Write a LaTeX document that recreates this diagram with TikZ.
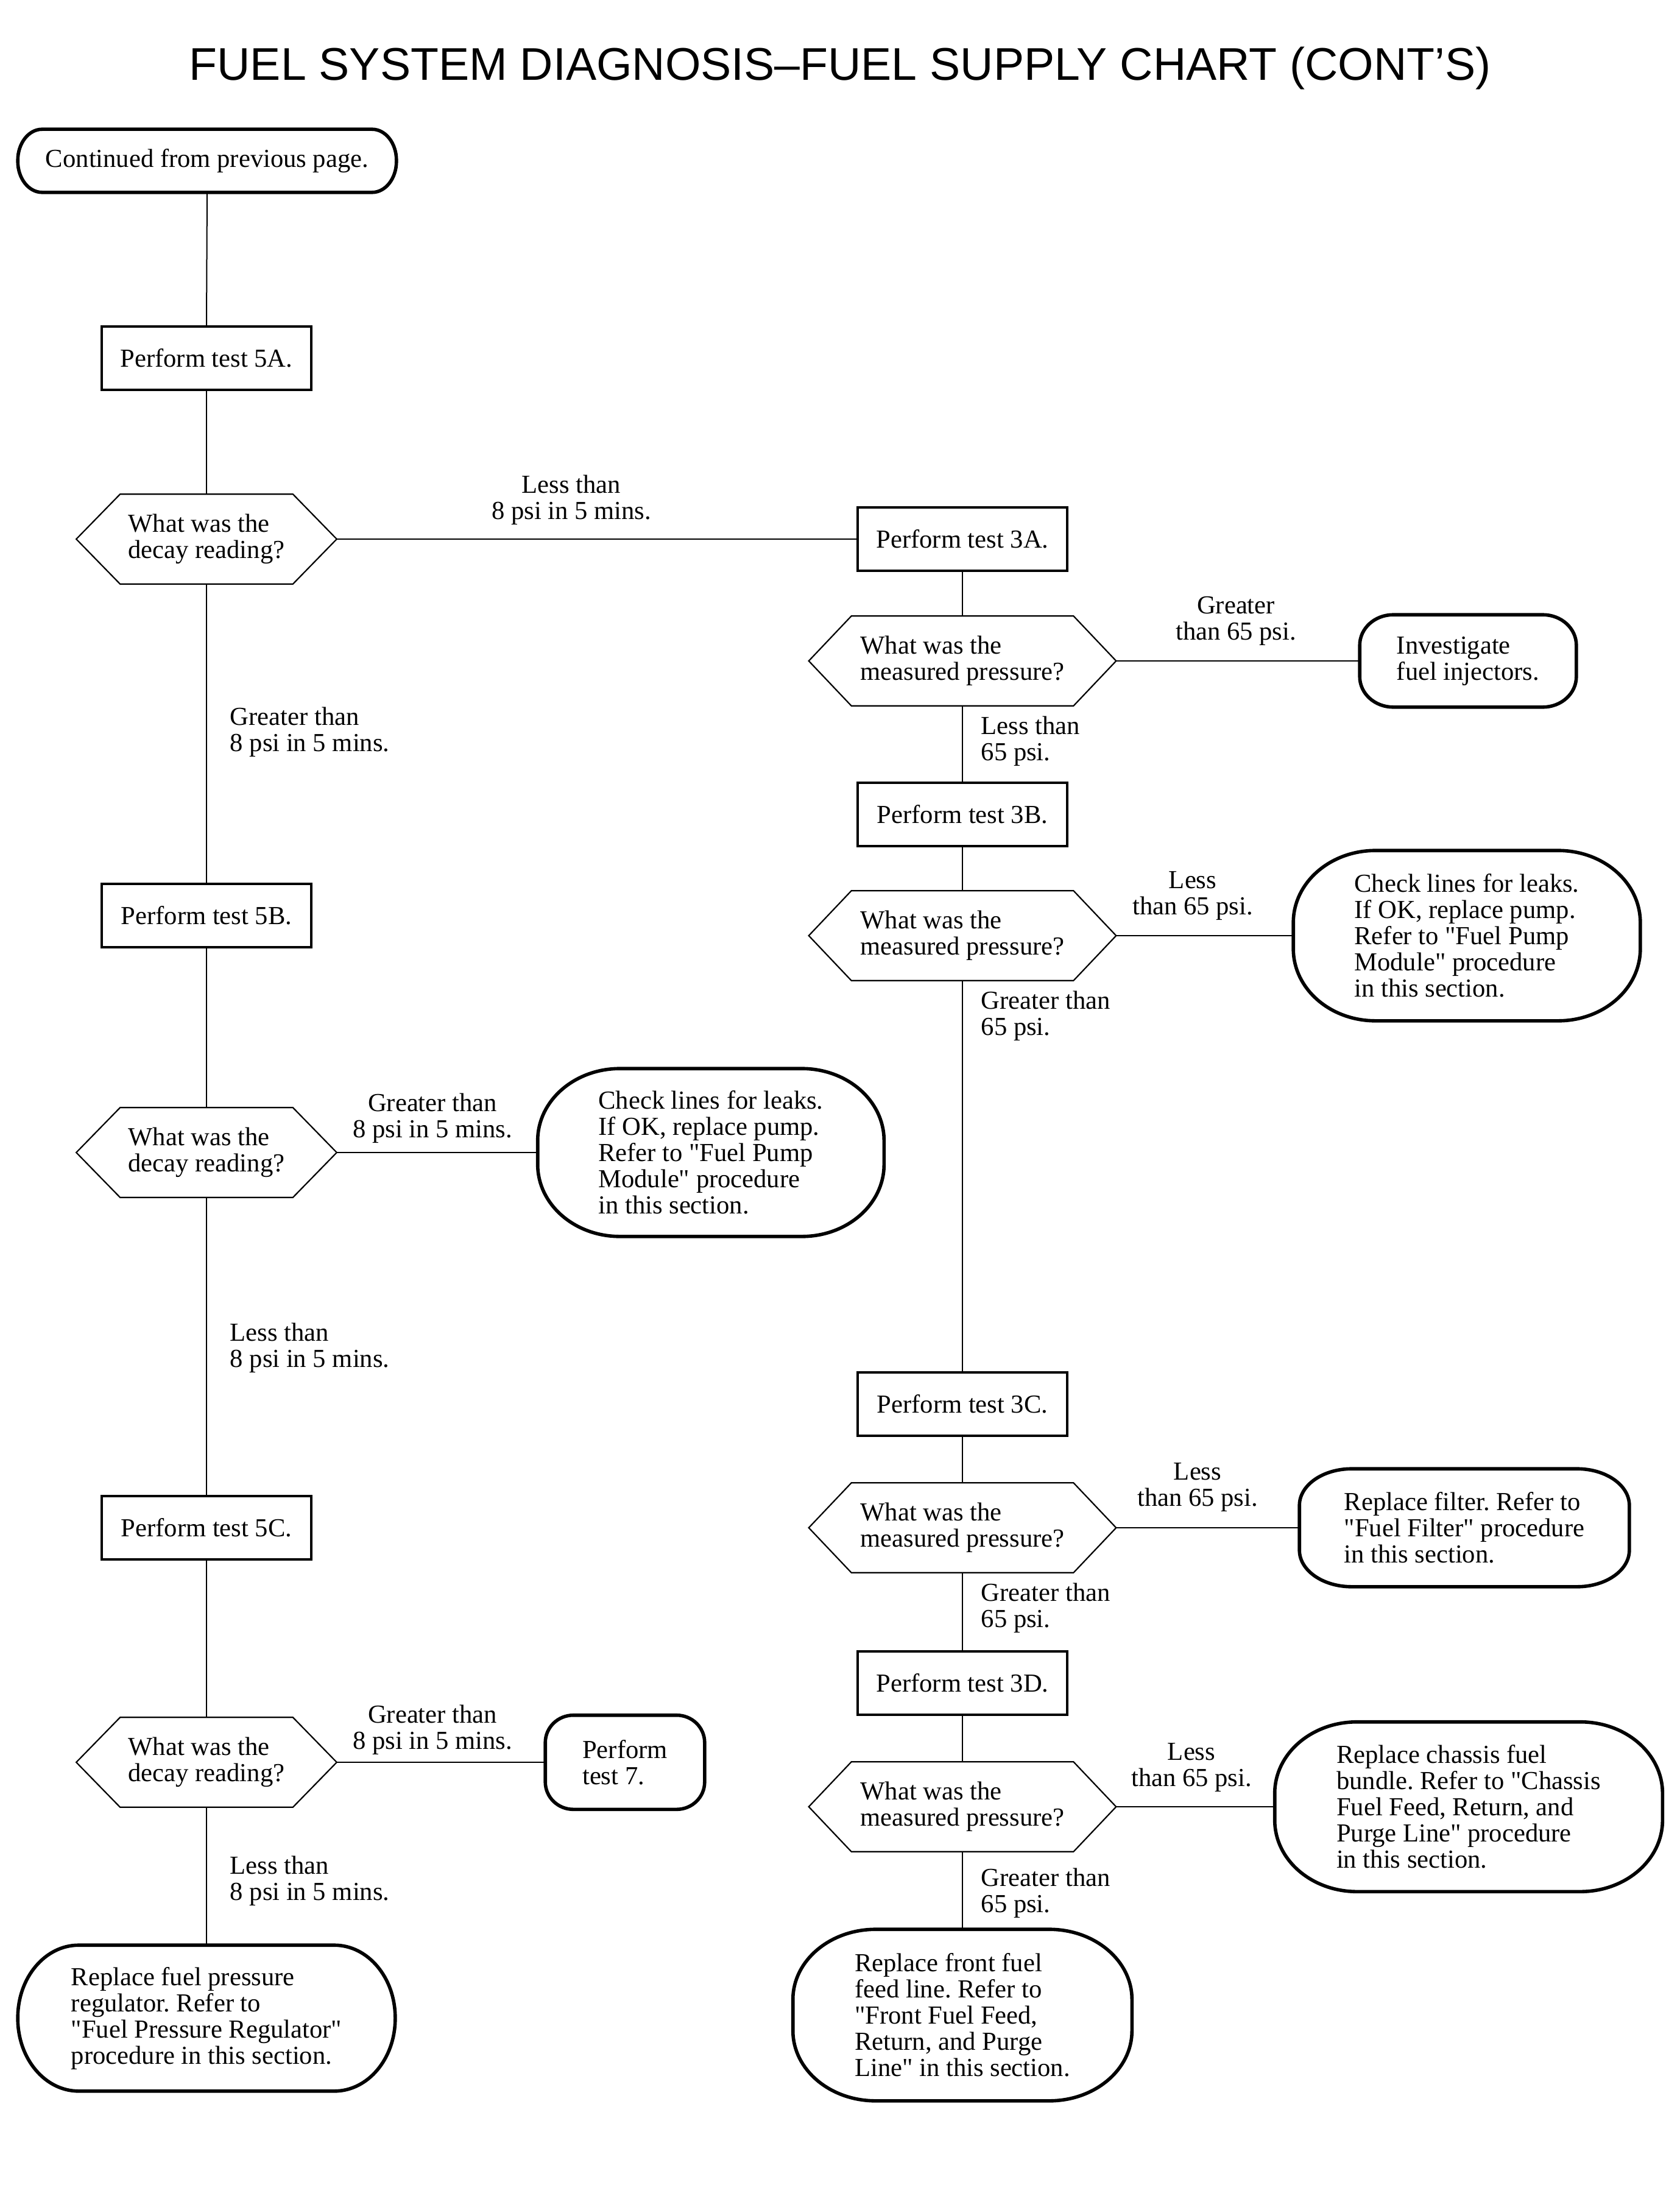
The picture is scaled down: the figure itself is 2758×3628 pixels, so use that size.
\documentclass[tikz,border=0pt]{standalone}
\usepackage{fontspec}
\setmainfont{Liberation Serif}[Ligatures=TeXOff]
\newfontfamily\titlefont{Liberation Sans}
\frenchspacing
\newcommand\termpath[3]{%
  \draw[termline] ([xshift=#2]#1.north west) -- ([xshift=-#2]#1.north east)
    arc[start angle=90,end angle=0,x radius=#2,y radius=#3]
    -- ([yshift=#3]#1.south east)
    arc[start angle=0,end angle=-90,x radius=#2,y radius=#3]
    -- ([xshift=#2]#1.south west)
    arc[start angle=270,end angle=180,x radius=#2,y radius=#3]
    -- ([yshift=-#3]#1.north west)
    arc[start angle=180,end angle=90,x radius=#2,y radius=#3] -- cycle;}
\newcommand\hexpath[2]{%
  \draw[hexline] (#1.west) -- ([xshift=#2]#1.north west) -- ([xshift=-#2]#1.north east)
    -- (#1.east) -- ([xshift=-#2]#1.south east) -- ([xshift=#2]#1.south west) -- cycle;}
\tikzset{
  txt/.style={font=\fontsize{10.65pt}{10.75pt}\selectfont\frenchspacing, inner sep=0pt, align=left},
  lblc/.style={txt, align=center},
  lbll/.style={txt, anchor=west},
  boxnode/.style={txt, draw, line width=1.1pt, minimum width=86pt, minimum height=26pt, align=center},
  hexdecay/.style={txt, minimum width=106.5pt, minimum height=36.5pt},
  hexmeas/.style={txt, minimum width=125.75pt, minimum height=36.5pt},
  termnode/.style={txt},
  conn/.style={line width=0.5pt},
  hexline/.style={line width=0.55pt, line join=miter},
  termline/.style={line width=1.4pt},
}
\begin{document}
\begin{tikzpicture}[x=0.25pt,y=-0.25pt]
\useasboundingbox (0,0) rectangle (2758,3628);
% title
\node[anchor=base, inner sep=0pt, font=\titlefont\fontsize{18.8pt}{20pt}\selectfont] (title) at (1379,132) {FUEL SYSTEM DIAGNOSIS–FUEL SUPPLY CHART (CONT’S)};
% left column
\node[termnode, minimum width=155pt, minimum height=25.5pt] (start) at (340,264) {Continued from previous page.};
\node[boxnode] (t5a) at (339,588) {Perform test 5A.};
\node[hexdecay] (d5a) at (339,885) {What was the\\decay reading?};
\node[boxnode] (t5b) at (339,1503) {Perform test 5B.};
\node[hexdecay] (d5b) at (339,1892) {What was the\\decay reading?};
\node[termnode, minimum width=141.75pt, minimum height=68.5pt] (r5b) at (1167,1892) {Check lines for leaks.\\If OK, replace pump.\\Refer to "Fuel Pump\\Module" procedure\\in this section.};
\node[boxnode] (t5c) at (339,2508) {Perform test 5C.};
\node[hexdecay] (d5c) at (339,2893) {What was the\\decay reading?};
\node[termnode, minimum width=65pt, minimum height=38.25pt] (p7) at (1026,2893) {Perform\\test 7.};
\node[termnode, minimum width=154.5pt, minimum height=59.5pt] (reg) at (339,3313) {Replace fuel pressure\\regulator. Refer to\\"Fuel Pressure Regulator"\\procedure in this section.};
% right column
\node[boxnode] (t3a) at (1580,885) {Perform test 3A.};
\node[hexmeas] (d3a) at (1580,1085) {What was the\\measured pressure?};
\node[termnode, minimum width=88.5pt, minimum height=37.5pt] (inv) at (2410,1085) {Investigate\\fuel injectors.};
\node[boxnode] (t3b) at (1580,1337) {Perform test 3B.};
\node[hexmeas] (d3b) at (1580,1536) {What was the\\measured pressure?};
\node[termnode, minimum width=142pt, minimum height=69.5pt] (r3b) at (2408,1536) {Check lines for leaks.\\If OK, replace pump.\\Refer to "Fuel Pump\\Module" procedure\\in this section.};
\node[boxnode] (t3c) at (1580,2305) {Perform test 3C.};
\node[hexmeas] (d3c) at (1580,2508) {What was the\\measured pressure?};
\node[termnode, minimum width=135pt, minimum height=48pt] (filt) at (2404,2508) {Replace filter. Refer to\\"Fuel Filter" procedure\\in this section.};
\node[boxnode] (t3d) at (1580,2763) {Perform test 3D.};
\node[hexmeas] (d3d) at (1580,2966) {What was the\\measured pressure?};
\node[termnode, minimum width=158.75pt, minimum height=69.25pt] (chas) at (2411,2966) {Replace chassis fuel\\bundle. Refer to "Chassis\\Fuel Feed, Return, and\\Purge Line" procedure\\in this section.};
\node[termnode, minimum width=138.75pt, minimum height=70pt] (front) at (1580,3308) {Replace front fuel\\feed line. Refer to\\"Front Fuel Feed,\\Return, and Purge\\Line" in this section.};
% shapes
\termpath{start}{10pt}{12.75pt}
\termpath{r5b}{33.75pt}{29.5pt}
\termpath{p7}{11.5pt}{11.25pt}
\termpath{reg}{25pt}{29.75pt}
\termpath{inv}{13.75pt}{12.5pt}
\termpath{r3b}{33.75pt}{29.5pt}
\termpath{filt}{21.5pt}{15pt}
\termpath{chas}{33.75pt}{29.25pt}
\termpath{front}{34pt}{28.75pt}
\hexpath{d5a}{18pt}
\hexpath{d5b}{18pt}
\hexpath{d5c}{18pt}
\hexpath{d3a}{17.5pt}
\hexpath{d3b}{17.5pt}
\hexpath{d3c}{17.5pt}
\hexpath{d3d}{17.5pt}
% connectors
\draw[conn] (start.south) -- (t5a.north);
\draw[conn] (t5a.south) -- (d5a.north);
\draw[conn] (d5a.east) -- (t3a.west);
\draw[conn] (d5a.south) -- (t5b.north);
\draw[conn] (t5b.south) -- (d5b.north);
\draw[conn] (d5b.east) -- (r5b.west);
\draw[conn] (d5b.south) -- (t5c.north);
\draw[conn] (t5c.south) -- (d5c.north);
\draw[conn] (d5c.east) -- (p7.west);
\draw[conn] (d5c.south) -- (reg.north);
\draw[conn] (t3a.south) -- (d3a.north);
\draw[conn] (d3a.east) -- (inv.west);
\draw[conn] (d3a.south) -- (t3b.north);
\draw[conn] (t3b.south) -- (d3b.north);
\draw[conn] (d3b.east) -- (r3b.west);
\draw[conn] (d3b.south) -- (t3c.north);
\draw[conn] (t3c.south) -- (d3c.north);
\draw[conn] (d3c.east) -- (filt.west);
\draw[conn] (d3c.south) -- (t3d.north);
\draw[conn] (t3d.south) -- (d3d.north);
\draw[conn] (d3d.east) -- (chas.west);
\draw[conn] (d3d.south) -- (front.north);
% labels
\node[lblc] (l1) at (938,821) {Less than\\8 psi in 5 mins.};
\node[lbll] (l2) at (377,1202) {Greater than\\8 psi in 5 mins.};
\node[lblc] (l3) at (710,1836) {Greater than\\8 psi in 5 mins.};
\node[lbll] (l4) at (377,2213) {Less than\\8 psi in 5 mins.};
\node[lblc] (l5) at (710,2840) {Greater than\\8 psi in 5 mins.};
\node[lbll] (l6) at (377,3088) {Less than\\8 psi in 5 mins.};
\node[lblc] (r1) at (2029,1019) {Greater\\than 65 psi.};
\node[lbll] (r2) at (1610,1217) {Less than\\65 psi.};
\node[lblc] (r3) at (1958,1471) {Less\\than 65 psi.};
\node[lbll] (r4) at (1610,1668) {Greater than\\65 psi.};
\node[lblc] (r5) at (1966,2442) {Less\\than 65 psi.};
\node[lbll] (r6) at (1610,2640) {Greater than\\65 psi.};
\node[lblc] (r7) at (1956,2902) {Less\\than 65 psi.};
\node[lbll] (r8) at (1610,3108) {Greater than\\65 psi.};
\end{tikzpicture}
\end{document}
